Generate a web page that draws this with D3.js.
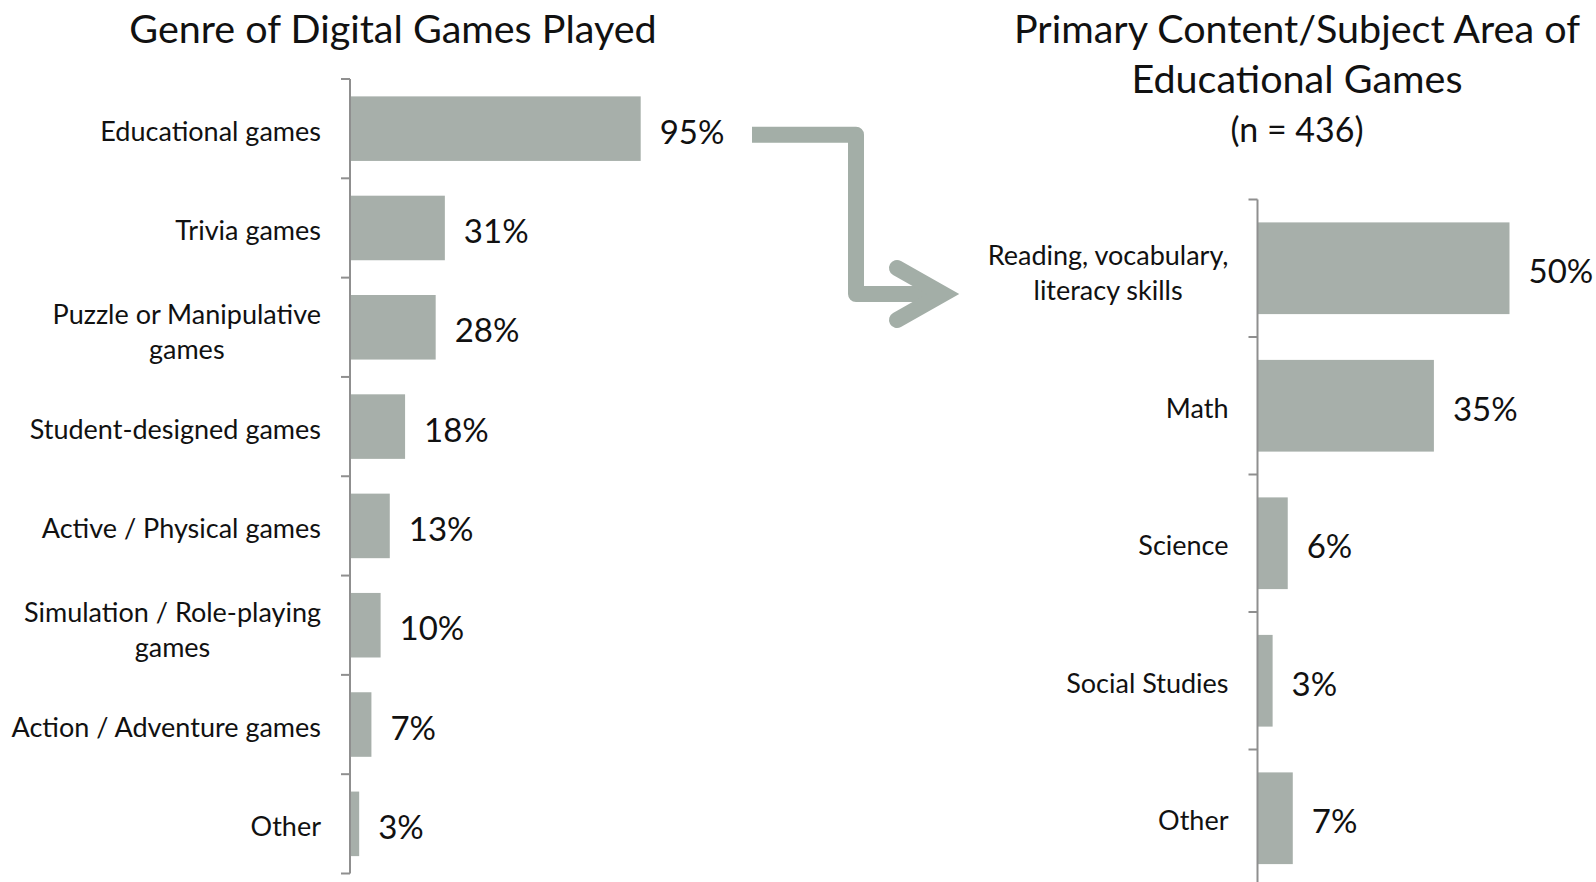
<!DOCTYPE html>
<html>
<head>
<meta charset="utf-8">
<script src="https://cdn.jsdelivr.net/npm/d3@7"></script>
<style>
  html, body { margin: 0; padding: 0; background: #fff; }
  svg { display: block; font-family: Lato, "Noto Sans", sans-serif; }
</style>
</head>
<body>
<svg id="chart" width="1596" height="882"></svg>
<script>
// Left panel: genre of digital games played (share of respondents)
const genreCategories = [
  "Educational games",
  "Trivia games",
  "Puzzle or Manipulative\ngames",
  "Student-designed games",
  "Active / Physical games",
  "Simulation / Role-playing\ngames",
  "Action / Adventure games",
  "Other"
];
const genreValues = [0.95, 0.31, 0.28, 0.18, 0.13, 0.10, 0.07, 0.03];
const genreLabels = ["95%", "31%", "28%", "18%", "13%", "10%", "7%", "3%"];

// Right panel: primary subject area of the educational games
const subjectCategories = [
  "Reading, vocabulary,\nliteracy skills",
  "Math",
  "Science",
  "Social Studies",
  "Other"
];
const subjectValues = [0.50, 0.35, 0.06, 0.03, 0.07];
const subjectLabels = ["50%", "35%", "6%", "3%", "7%"];

const leftTitle = ["Genre of Digital Games Played"];
const rightTitle = ["Primary Content/Subject Area of", "Educational Games", "(n = 436)"];

const BAR = "#a7afaa";
const ARROW = "#a3aea7";
const AXIS = "#8f8f8f";
const LABEL_SIZE = 27;

const svg = d3.select("#chart");

function drawPanel(cfg) {
  const g = svg.append("g");
  const y = d3.scaleBand()
    .domain(cfg.categories)
    .range([cfg.top, cfg.bottom])
    .paddingInner(cfg.pad)
    .paddingOuter(cfg.pad / 2);
  const x = d3.scaleLinear().domain([0, 1]).range([cfg.axisX, cfg.axisX + cfg.fullWidth]);

  // bars
  g.selectAll("rect.bar")
    .data(cfg.values)
    .join("rect")
    .attr("class", "bar")
    .attr("x", x(0))
    .attr("y", (d, i) => y(cfg.categories[i]))
    .attr("width", d => x(d) - x(0))
    .attr("height", y.bandwidth())
    .attr("fill", BAR);

  // axis line and tick marks at band boundaries
  const step = y.step();
  const bounds = d3.range(cfg.categories.length + 1).map(i => cfg.top + i * step);
  g.append("line")
    .attr("x1", cfg.axisX).attr("x2", cfg.axisX)
    .attr("y1", cfg.top).attr("y2", cfg.bottom)
    .attr("stroke", AXIS).attr("stroke-width", 2);
  g.selectAll("line.tick")
    .data(bounds)
    .join("line")
    .attr("class", "tick")
    .attr("x1", cfg.axisX - 9).attr("x2", cfg.axisX)
    .attr("y1", d => d).attr("y2", d => d)
    .attr("stroke", AXIS).attr("stroke-width", 2);

  // value labels
  g.selectAll("text.val")
    .data(cfg.values)
    .join("text")
    .attr("class", "val")
    .attr("x", d => x(d) + 19)
    .attr("y", (d, i) => y(cfg.categories[i]) + y.bandwidth() / 2 + 15)
    .attr("font-size", 33)
    .attr("fill", "#111")
    .text((d, i) => cfg.labels[i]);

  // category labels (right-aligned block, multi-line centred within block)
  cfg.categories.forEach(c => {
    const lines = c.split("\n");
    const cy = y(c) + y.bandwidth() / 2;
    const lh = 35;
    const t = g.append("text")
      .attr("font-size", LABEL_SIZE)
      .attr("fill", "#111");
    if (lines.length === 1) {
      t.attr("x", cfg.axisX - 29)
        .attr("y", cy + 12)
        .attr("text-anchor", "end")
        .text(c);
    } else {
      // measure the widest line to centre the block against the right edge
      const tmp = g.append("text").attr("font-size", LABEL_SIZE);
      const widths = lines.map(l => { tmp.text(l); return tmp.node().getComputedTextLength(); });
      tmp.remove();
      const w = d3.max(widths);
      const cx = cfg.axisX - 29 - w / 2;
      t.attr("text-anchor", "middle");
      lines.forEach((l, k) => {
        t.append("tspan")
          .attr("x", cx)
          .attr("y", cy + 12 + 2 + (k - (lines.length - 1) / 2) * lh)
          .text(l);
      });
    }
  });
}

drawPanel({
  categories: genreCategories, values: genreValues, labels: genreLabels,
  top: 79, bottom: 873.5, pad: 0.35, axisX: 350, fullWidth: 306
});

drawPanel({
  categories: subjectCategories, values: subjectValues, labels: subjectLabels,
  top: 199.5, bottom: 887, pad: 0.333, axisX: 1257.5, fullWidth: 504
});

// titles
svg.append("text")
  .attr("x", 393).attr("y", 43)
  .attr("text-anchor", "middle")
  .attr("font-size", 39.5)
  .attr("fill", "#111")
  .text(leftTitle[0]);

svg.append("g").selectAll("text")
  .data(rightTitle)
  .join("text")
  .attr("x", 1297)
  .attr("y", (d, i) => 43 + i * 49.5)
  .attr("text-anchor", "middle")
  .attr("font-size", (d, i) => i === 2 ? 34 : 39.5)
  .attr("fill", "#111")
  .text(d => d);

// connecting arrow from the educational games bar to the right panel
const arrow = svg.append("g")
  .attr("fill", "none")
  .attr("stroke", ARROW)
  .attr("stroke-width", 16);
arrow.append("path")
  .attr("d", d3.line()([[752, 134.7], [856, 134.7], [856, 294], [943, 294]]))
  .attr("stroke-linejoin", "round");
arrow.append("path")
  .attr("d", d3.line()([[897, 268], [943, 294], [897, 320]]))
  .attr("stroke-linecap", "round")
  .attr("stroke-linejoin", "miter");
</script>
</body>
</html>
